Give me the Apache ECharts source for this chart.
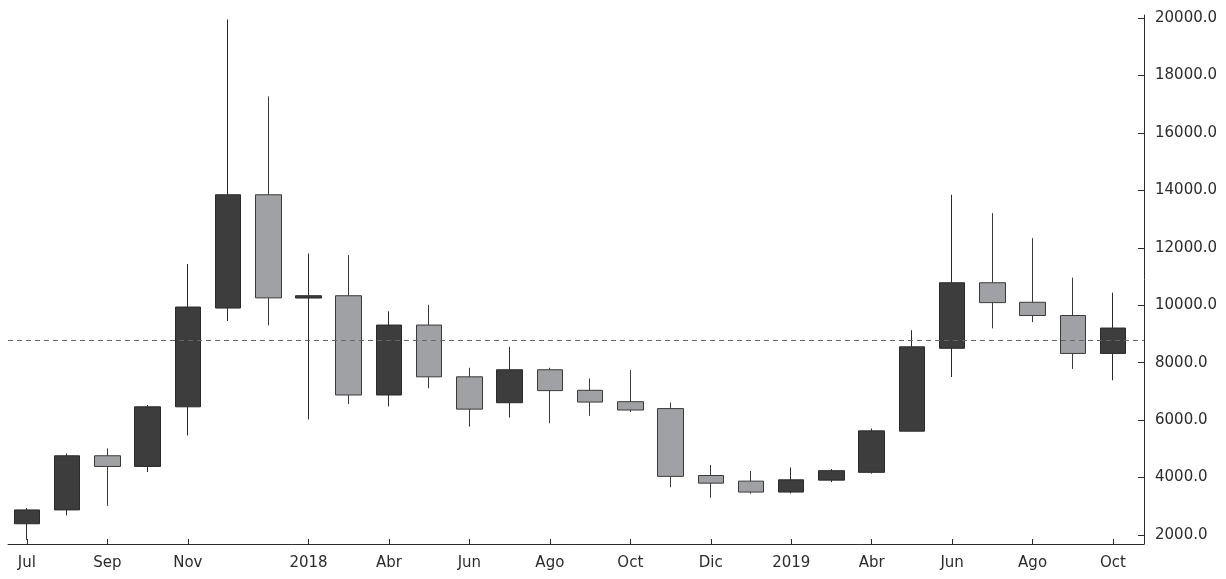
<!DOCTYPE html>
<html>
<head>
<meta charset="utf-8">
<script src="https://cdn.jsdelivr.net/npm/echarts@6/dist/echarts.min.js"></script>
<style>
  html, body { margin: 0; padding: 0; background: #fff; }
  #main { width: 1226px; height: 579px; }
</style>
</head>
<body>
<div id="main"></div>
<script>
// meses, de jul 2017 a oct 2019
var months = ['2017-07', '2017-08', '2017-09', '2017-10', '2017-11', '2017-12',
    '2018-01', '2018-02', '2018-03', '2018-04', '2018-05', '2018-06',
    '2018-07', '2018-08', '2018-09', '2018-10', '2018-11', '2018-12',
    '2019-01', '2019-02', '2019-03', '2019-04', '2019-05', '2019-06',
    '2019-07', '2019-08', '2019-09', '2019-10'];

var openVals  = [2390, 2872, 4757, 4385, 6462, 9900, 13846, 10250, 10330, 6873, 9309, 7506,
    6604, 7752, 7037, 6640, 6400, 4070, 3874, 3493, 3909, 4180, 5614, 8500,
    10782, 10102, 9641, 8320];
var closeVals = [2872, 4757, 4385, 6462, 9936, 13846, 10256, 10330, 6873, 9309, 7506, 6381,
    7752, 7026, 6627, 6350, 4040, 3804, 3493, 3920, 4238, 5625, 8551, 10782,
    10090, 9641, 8320, 9205];
var lowVals   = [1830, 2680, 3013, 4193, 5462, 9449, 9295, 6020, 6557, 6475, 7107, 5773,
    6089, 5890, 6147, 6280, 3660, 3296, 3435, 3447, 3840, 4134, 5614, 7500,
    9192, 9410, 7782, 7385];
var highVals  = [2936, 4833, 5013, 6526, 11436, 19950, 17269, 11800, 11745, 9789, 10012, 7822,
    8548, 7822, 7447, 7740, 6610, 4440, 4225, 4352, 4295, 5706, 9129, 13846,
    13205, 12333, 10961, 10436];

// etiquetas del eje x (posición en meses)
var tickIdx  = [0, 2, 4, 7, 9, 11, 13, 15, 17, 19, 21, 23, 25, 27];
var tickText = ['Jul', 'Sep', 'Nov', '2018', 'Abr', 'Jun', 'Ago', 'Oct', 'Dic', '2019', 'Abr', 'Jun', 'Ago', 'Oct'];

var yTicks = [2000, 4000, 6000, 8000, 10000, 12000, 14000, 16000, 18000, 20000];
var refLevel = 8780;

var candles = months.map(function (m, i) {
    return [i, openVals[i], closeVals[i], lowVals[i], highVals[i]];
});

var myChart = echarts.init(document.getElementById('main'));

var axisFont = {
    fontFamily: 'DejaVu Sans',
    fontSize: 15,
    color: '#2b2b2b'
};

var option = {
    animation: false,
    backgroundColor: '#ffffff',
    grid: { left: 8, right: 82, top: 15, bottom: 35 },
    xAxis: {
        type: 'value',
        min: -0.47,
        max: 27.77,
        axisLine: { onZero: false, lineStyle: { color: '#2b2b2b', width: 1 } },
        axisTick: { inside: true, length: 5, customValues: tickIdx, lineStyle: { color: '#2b2b2b' } },
        axisLabel: Object.assign({
            customValues: tickIdx,
            margin: 12,
            formatter: function (v) {
                var k = tickIdx.indexOf(Math.round(v));
                return k >= 0 ? tickText[k] : '';
            }
        }, axisFont),
        splitLine: { show: false }
    },
    yAxis: {
        type: 'value',
        position: 'right',
        min: 1685,
        max: 20105,
        axisLine: { show: true, onZero: false, lineStyle: { color: '#2b2b2b', width: 1 } },
        axisTick: { show: true, inside: true, length: 6, customValues: yTicks, lineStyle: { color: '#2b2b2b' } },
        axisLabel: Object.assign({
            customValues: yTicks,
            margin: 11,
            formatter: function (v) { return v.toFixed(1); }
        }, axisFont),
        splitLine: { show: false }
    },
    series: [{
        type: 'candlestick',
        data: candles,
        encode: { x: 0, y: [1, 2, 3, 4] },
        barWidth: 26,
        itemStyle: {
            color: '#3d3d3d',
            color0: '#a0a1a4',
            borderColor: '#2a2a2a',
            borderColor0: '#3a3a3a',
            borderWidth: 1
        },
        markLine: {
            silent: true,
            symbol: ['none', 'none'],
            label: { show: false },
            lineStyle: { color: '#666666', type: [5, 4], width: 1 },
            data: [{ yAxis: refLevel }]
        }
    }]
};

myChart.setOption(option);
</script>
</body>
</html>
